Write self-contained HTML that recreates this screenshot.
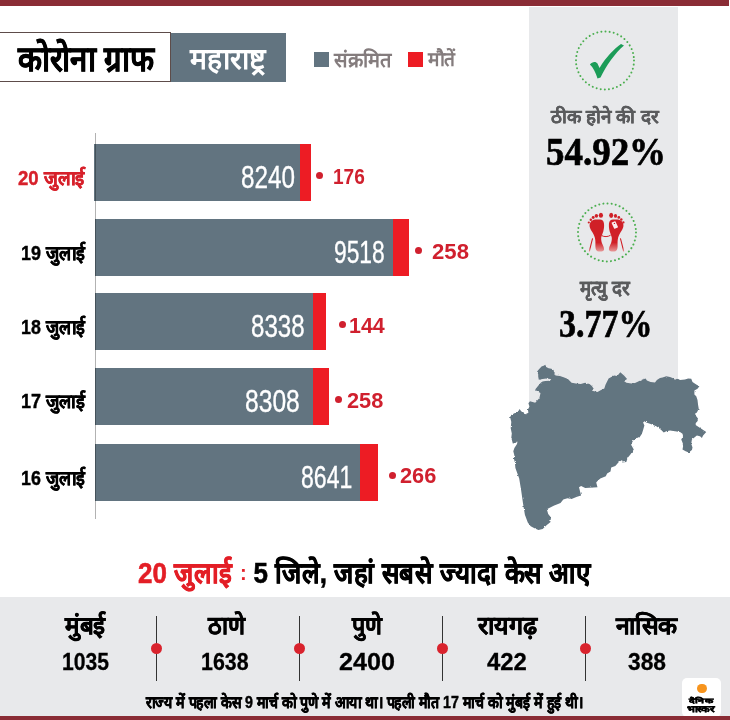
<!DOCTYPE html>
<html lang="hi">
<head>
<meta charset="utf-8">
<title>कोरोना ग्राफ - महाराष्ट्र</title>
<style>
*{margin:0;padding:0;box-sizing:border-box}
html,body{width:730px;height:720px;overflow:hidden;background:#fff}
body{position:relative;font-family:"Liberation Sans",sans-serif;color:#000}
.a{position:absolute}
.t{position:absolute;white-space:nowrap;line-height:1;transform-origin:0 0}
.b{font-weight:bold}
#topbar{left:0;top:0;width:729px;height:6px;background:#8a2c35}
#botbar{left:0;top:716px;width:730px;height:4px;background:#8a2c35}
#titlebox{left:-1px;top:32px;width:172px;height:50px;border:1px solid #5d4c4a;background:#fff}
#statebox{left:171px;top:33px;width:115px;height:49px;background:#627480}
.sq{position:absolute;width:15px;height:15px}
#panel{left:529px;top:7px;width:149px;height:408px;background:#e8e9eb}
#axis{left:95px;top:133px;width:1px;height:386px;background:rgba(0,0,0,0.3)}
.bar{position:absolute;left:95px;height:57px;background:#627480}
.red{position:absolute;height:57px;background:#ed1c24}
.num{color:#fff;font-size:29.5px}
.rnum{color:#d0202e;font-weight:bold;font-size:23px}
.dot{position:absolute;width:7px;height:7px;border-radius:50%;background:#d0202e}
.date{font-weight:bold;font-size:18px}
#band{left:0;top:597px;width:730px;height:119px;background:#e8e9eb}
.div{position:absolute;width:1px;background:#333;top:616px;height:65px}
.rdot{position:absolute;width:11px;height:11px;border-radius:50%;background:#d9232d;top:643px}
.dn{font-weight:bold;font-size:24px;color:#000}
.dv{font-weight:bold;font-size:24px;color:#000}
#logo{left:682px;top:678px;width:38.5px;height:39px;background:#fff;border-radius:5px}
#title,#head{-webkit-text-stroke:0.6px currentColor}
#foot{-webkit-text-stroke:0.5px currentColor}
.date,.dn{-webkit-text-stroke:0.4px currentColor}
.dv{-webkit-text-stroke:0.3px currentColor}
#rec,#mort{-webkit-text-stroke:0.2px currentColor}
#lg_a,#lg_b{-webkit-text-stroke:0.5px currentColor}
#recv,#mortv{-webkit-text-stroke:0.7px currentColor}
.num{-webkit-text-stroke:0.35px currentColor}
</style>
</head>
<body>
<div class="a" id="topbar"></div>
<div class="a" id="panel"></div>

<!-- title -->
<div class="a" id="titlebox"></div>
<div class="t b" id="title" style="left:17.87px;top:40.55px;font-size:35.28px;color:#000;transform:scaleX(0.8844)">कोरोना ग्राफ</div>
<div class="a" id="statebox"></div>
<div class="t b" id="state" style="left:190.21px;top:43.51px;font-size:29.65px;color:#fff;transform:scaleX(0.9568)">महाराष्ट्र</div>

<!-- legend -->
<div class="sq" style="left:314px;top:52px;background:#627480"></div>
<div class="t b" id="lg1" style="left:334.10px;top:49.56px;font-size:20.56px;color:#847c7d;transform:scaleX(0.9748)">संक्रमित</div>
<div class="sq" style="left:408px;top:52px;background:#ed1c24"></div>
<div class="t b" id="lg2" style="left:427.71px;top:50.43px;font-size:19.75px;color:#847c7d;transform:scaleX(0.9690)">मौतें</div>

<!-- chart -->

<div class="t date" id="d1" style="font-size:20.03px;left:18.16px;top:167.71px;color:#d7212b;transform:scaleX(0.9289)">20 जुलाई</div>
<div class="bar" style="top:144px;left:94px;width:206px"></div>
<div class="red" style="top:144px;left:300px;width:11px"></div>
<div class="t num" id="n1" style="font-size:30.81px;left:241.40px;top:163.37px;transform:scaleX(0.7892)">8240</div>
<div class="dot" style="left:316px;top:172px"></div>
<div class="t rnum" id="r1" style="font-size:22.38px;left:332.88px;top:165.54px;transform:scaleX(0.8526)">176</div>

<div class="t date" id="d2" style="font-size:20.08px;left:20.57px;top:242.69px;transform:scaleX(0.8940)">19 जुलाई</div>
<div class="bar" style="top:219px;width:298px"></div>
<div class="red" style="top:219px;left:393px;width:16px"></div>
<div class="t num" id="n2" style="font-size:30.81px;left:334.10px;top:237.55px;transform:scaleX(0.7406)">9518</div>
<div class="dot" style="left:415px;top:247px"></div>
<div class="t rnum" id="r2" style="font-size:22.38px;left:431.50px;top:240.54px;transform:scaleX(0.9896)">258</div>

<div class="t date" id="d3" style="font-size:20.06px;left:20.98px;top:316.69px;transform:scaleX(0.8908)">18 जुलाई</div>
<div class="bar" style="top:293px;width:217.5px"></div>
<div class="red" style="top:293px;left:312.5px;width:13px"></div>
<div class="t num" id="n3" style="font-size:30.81px;left:251.07px;top:311.54px;transform:scaleX(0.7819)">8338</div>
<div class="dot" style="left:339px;top:321px"></div>
<div class="t rnum" id="r3" style="font-size:22.38px;left:349.38px;top:314.54px;transform:scaleX(0.9583)">144</div>

<div class="t date" id="d4" style="font-size:19.39px;left:20.97px;top:392.46px;transform:scaleX(0.9329)">17 जुलाई</div>
<div class="bar" style="top:368px;width:217.5px"></div>
<div class="red" style="top:368px;left:312.5px;width:16.8px"></div>
<div class="t num" id="n4" style="font-size:30.81px;left:245.13px;top:386.54px;transform:scaleX(0.8001)">8308</div>
<div class="dot" style="left:335px;top:396px"></div>
<div class="t rnum" id="r4" style="font-size:22.38px;left:347.23px;top:389.54px;transform:scaleX(0.9721)">258</div>

<div class="t date" id="d5" style="font-size:20.08px;left:20.98px;top:467.68px;transform:scaleX(0.8899)">16 जुलाई</div>
<div class="bar" style="top:444px;width:265.3px"></div>
<div class="red" style="top:444px;left:360.3px;width:18.1px"></div>
<div class="t num" id="n5" style="font-size:30.81px;left:301.15px;top:463.04px;transform:scaleX(0.7481)">8641</div>
<div class="dot" style="left:389px;top:472px"></div>
<div class="t rnum" id="r5" style="font-size:22.38px;left:400.34px;top:465.06px;transform:scaleX(0.9731)">266</div>

<div class="a" id="axis"></div>

<!-- right panel content -->
<svg class="a" id="check" style="left:570px;top:25px" width="70" height="70" viewBox="570 25 70 70">
  <circle cx="605" cy="60.5" r="29" fill="none" stroke="#4caf50" stroke-width="2" stroke-dasharray="0.01 4.14" stroke-linecap="round"/>
  <path d="M589.9 64.4 C592 61.5 596 61 597.5 63.5 L599.5 68 C606 57 614 49 621 44 L624 45.5 C615 53 606 66 600.5 77.5 L597.5 78.5 C596 73 593 67 589.9 64.4 Z" fill="#1c9c58"/>
</svg>
<div class="t b" id="rec" style="left:551.28px;top:108.49px;font-size:18.78px;color:#5a5b5d;transform:scaleX(0.9999)">ठीक होने की दर</div>
<div class="t" id="recv" style="left:545.94px;top:131.81px;font-size:40.08px;font-weight:bold;font-family:'Liberation Serif',serif;color:#000;transform:scaleX(0.9216)">54.92%</div>

<svg class="a" id="feet" style="left:572px;top:197px" width="70" height="70" viewBox="572 197 70 70">
  <circle cx="607" cy="232.4" r="29" fill="none" stroke="#4caf50" stroke-width="2" stroke-dasharray="0.01 4.14" stroke-linecap="round"/>
  <defs><linearGradient id="fg" x1="0" y1="0" x2="0" y2="1"><stop offset="0.72" stop-color="#d02027"/><stop offset="1" stop-color="#e79a9a"/></linearGradient></defs>
  <g fill="url(#fg)">
   <path id="lf" d="M590 223.2 C591 221 593.5 219.6 595.3 219.6 C597.5 219.3 600.2 219.4 601.5 219.8 C603.4 220.6 604.2 222.8 604.1 225.2 C604.2 227.5 603.6 230.1 603.3 231.5 C602.6 233.5 601.6 235.8 601.2 237.8 C601.1 240 601.4 241.5 601.9 243 C602.8 245 603.9 247 604.1 249.2 C604 250.6 603 251.3 601.5 251.5 C600 251.6 598.5 251.6 597.5 251.2 C596 250.5 595.5 249 595.4 246.5 C595.4 244 595.5 241.5 595.2 239.5 C594.8 237 593.8 234.5 592.4 232.3 C591 230.2 589.9 228.2 589.6 226.3 C589.4 225.2 589.6 224.1 590 223.2 Z"/>
   <use href="#lf" transform="translate(1213 0) scale(-1 1)"/>
  </g>
  <g fill="#d02027">
   <ellipse cx="600.9" cy="215.2" rx="2.1" ry="2.5"/><ellipse cx="596.4" cy="215.8" rx="1.7" ry="1.9"/><circle cx="593.2" cy="217.5" r="1.45"/><circle cx="590.8" cy="219.8" r="1.25"/><circle cx="588.8" cy="222.5" r="1.1"/>
   <ellipse cx="611.2" cy="215.3" rx="2.0" ry="2.6"/><ellipse cx="615.5" cy="215.9" rx="1.6" ry="1.9"/><circle cx="618.8" cy="217.4" r="1.4"/><circle cx="621.3" cy="219.5" r="1.25"/><circle cx="623.4" cy="222.4" r="1.15"/>
  </g>
  <g fill="none" stroke="url(#fg)" stroke-width="1.1">
   <path d="M592.6 238.3 C591.5 242 590.5 247 589.3 251.5"/>
   <path d="M620.4 238.3 C621.5 242 622.5 247 623.7 251.5"/>
  </g>
  <path d="M601.8 235.6 C604 237 608 237 610.6 235.2" fill="none" stroke="#d02027" stroke-width="1"/>
  <g transform="rotate(-25 614.8 225)"><rect x="612.7" y="221.6" width="4.2" height="6.8" rx="0.5" fill="#fbeeee"/></g><circle cx="614.4" cy="223.4" r="0.7" fill="#d02027"/>
</svg>
<div class="t b" id="mort" style="left:580.14px;top:278.45px;font-size:20.53px;color:#5a5b5d;transform:scaleX(0.9097)">मृत्यु दर</div>
<div class="t" id="mortv" style="left:559.35px;top:304.45px;font-size:40.21px;font-weight:bold;font-family:'Liberation Serif',serif;color:#000;transform:scaleX(0.8458)">3.77%</div>

<!-- map -->
<svg class="a" id="map" style="left:500px;top:360px" width="215" height="180" viewBox="500 360 215 180">
  <defs><filter id="rough" x="-5%" y="-5%" width="110%" height="110%"><feTurbulence type="fractalNoise" baseFrequency="0.35" numOctaves="2" seed="3"/><feDisplacementMap in="SourceGraphic" scale="2.2" xChannelSelector="R" yChannelSelector="G"/></filter></defs>
  <polygon filter="url(#rough)" fill="#627480" points="537.1,371.5 539,369.3 541.5,366.6 543.7,365.8 545.3,364.7 546.2,367.1 548.6,368.2 551.4,368.8 553.6,369.9 554.1,372.6 555.5,375.4 559.9,376 563.6,377.3 567.9,379.1 571.6,382.8 575.9,383.4 580.8,384 585.1,382.8 589.5,384 591.9,385.9 593.8,389 591.9,390.8 597.5,392.1 600.6,390.2 604.3,388.4 605.5,384.7 608.6,378.5 614.1,375.4 617.2,376 620.3,372.3 624,375.4 627.1,379.1 624,381 626.4,382.8 631.4,383.4 635,383.1 638.75,381.25 642.5,379.4 645.6,378.5 646.9,380.6 650.6,381.9 655,382.5 656.9,380 660,378.1 662.5,377.5 666.25,376.25 670,376.9 672.5,378.1 675,379.75 677.5,378.5 680,380 685,379.4 688.1,378.5 691.25,378.75 692.5,381.9 696.25,384.4 699.4,386.25 697.5,388.75 694.4,390.6 694.4,394.4 696.25,396.25 697.5,400 698.1,405 698.75,408.75 696.9,412.5 695,413.75 696.25,416.25 698.1,418.75 696.25,422.5 695.6,425 699.4,427.5 702.5,429.4 706.25,431.9 703.1,435.6 701.9,438.1 700,436.25 696.9,435.6 695,436.9 691.9,439.4 691.25,443.75 692.5,447.5 691.9,450 688.75,452.5 685.6,451.25 682.5,449.4 683.1,446.25 682.5,442.5 681.25,439.4 683.1,436.25 682.5,433.75 680,431.9 675,431.25 670,430.6 666.25,431.25 663.75,432.5 661.25,430 658.75,428.1 656.25,426.25 653.1,425 650,423.75 646.25,422.5 644.4,421.25 643.1,422.5 644.4,425.6 643.1,430 641.9,433.75 639.4,437.5 636.25,438.1 633.1,440.6 631.1,444.8 633.8,449.6 630.4,454.4 627.7,457.8 626.3,461.9 622.2,462.6 622.2,459.9 618.8,461.9 615.3,466 611.2,467.4 610.5,471.5 607.1,473.6 605.8,476.3 600.3,478.4 597.5,481.1 596.2,482.5 597.5,487.3 585.2,488 581.1,485.9 579,487.3 581.1,495.5 577,496.8 571.5,498.9 567.4,498.2 563.3,499.6 560.5,503 553.7,505.8 546.8,509.2 548.2,514 551,517.4 550.3,522.2 546.8,524.9 542.7,529 538.4,530.1 534.5,528.2 530.7,526.3 527.8,522.5 524.9,514.8 523,503.3 521.1,489.9 519.2,478.4 515.4,467.9 514.9,462.7 513.9,458.5 514.4,455.4 513.3,451.3 514.4,448.1 517,444 517.5,441.4 515.4,442.9 512.8,443.4 511.3,437.7 511.8,433.5 510.7,428.3 511.3,422.1 510.2,417.4 510.7,415.3 514.4,413.2 518,411.7 519.6,409.1 520.6,410.6 523.2,413.2 525.3,414.3 528.4,412.7 527.9,409.6 529.5,406.5 528.4,403.3 530,401.3 535.2,402.8 539.4,398 540.5,393 537.1,391.2 535.2,389.6 538.2,385.8 541,382.5 542.6,381.6 545.3,381.1 549.7,380.8 551.3,379.4 550.3,378.9 546.4,378.6 542.6,378.9 538.8,379.7 538.2,376.4 538.2,374.2"/>
</svg>

<!-- headline -->
<div class="t b" id="head" style="left:138.18px;top:559.13px;font-size:29.11px;transform:scaleX(0.8915)"><span style="color:#e31e26">20 जुलाई <span style="font-size:21px;position:relative;top:-3px;margin-left:2px;-webkit-text-stroke:0.2px">:</span></span> 5 जिले, जहां सबसे ज्यादा केस आए</div>

<div class="a" id="band"></div>
<div class="t dn" id="c1" style="font-size:24.89px;left:65.33px;top:612.71px;transform:scaleX(0.9745)">मुंबई</div>
<div class="t dv" id="v1" style="font-size:24.03px;left:61.62px;top:649.81px;transform:scaleX(0.8798)">1035</div>
<div class="div" style="left:156px"></div><div class="rdot" style="left:151px"></div>
<div class="t dn" id="c2" style="font-size:24.96px;left:207.62px;top:613.24px;transform:scaleX(0.9418)">ठाणे</div>
<div class="t dv" id="v2" style="font-size:24.03px;left:200.88px;top:649.81px;transform:scaleX(0.8919)">1638</div>
<div class="div" style="left:299px"></div><div class="rdot" style="left:294px"></div>
<div class="t dn" id="c3" style="font-size:24.74px;left:351.53px;top:613.74px;transform:scaleX(0.9425)">पुणे</div>
<div class="t dv" id="v3" style="font-size:24.03px;left:338.67px;top:649.81px;transform:scaleX(1.0458)">2400</div>
<div class="div" style="left:442px"></div><div class="rdot" style="left:437px"></div>
<div class="t dn" id="c4" style="font-size:25.07px;left:477.52px;top:613.07px;transform:scaleX(1.0007)">रायगढ़</div>
<div class="t dv" id="v4" style="font-size:24.03px;left:487.04px;top:649.81px;transform:scaleX(0.9945)">422</div>
<div class="div" style="left:585px"></div><div class="rdot" style="left:580px"></div>
<div class="t dn" id="c5" style="font-size:24.25px;left:616.31px;top:613.81px;transform:scaleX(1.0214)">नासिक</div>
<div class="t dv" id="v5" style="font-size:24.28px;left:627.98px;top:649.57px;transform:scaleX(0.9389)">388</div>

<div class="t b" id="foot" style="left:145.83px;top:694.77px;font-size:16.71px;transform:scaleX(0.8499)">राज्य में पहला केस 9 मार्च को पुणे में आया था। पहली मौत 17 मार्च को मुंबई में हुई थी।</div>

<div class="a" id="logo"></div>
<div class="a" style="left:697px;top:683.5px;width:9.5px;height:9.5px;border-radius:50%;background:#f7941d"></div>
<div class="t b" id="lg_a" style="left:689.05px;top:698.17px;font-size:6.79px;color:#000;transform:scaleX(1.5783)">दैनिक</div>
<div class="t b" id="lg_b" style="left:687.21px;top:704.57px;font-size:8.97px;color:#000;transform:scaleX(1.2520)">भास्कर</div>
<div class="a" id="botbar"></div>
</body>
</html>
